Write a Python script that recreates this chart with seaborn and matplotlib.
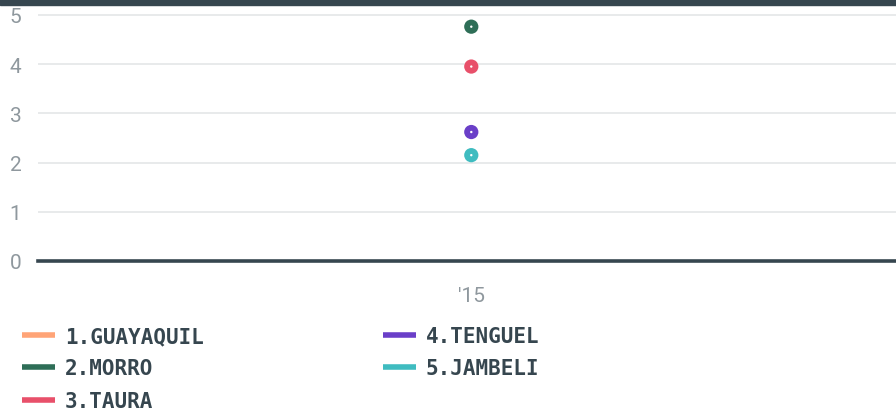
import pandas as pd
import numpy as np
import matplotlib

matplotlib.use('Agg')

import matplotlib.pyplot as plt
import seaborn as sns
from matplotlib.lines import Line2D
from matplotlib.patches import Rectangle

# data
stations = ['1.GUAYAQUIL', '2.MORRO', '3.TAURA', '4.TENGUEL', '5.JAMBELI']
values = [np.nan, 4.76, 3.95, 2.62, 2.15]
years = ["'15"]
colors = ['#ffa477', '#2e6e57', '#e8506a', '#6a3fc8', '#3fbcc0']

df = pd.DataFrame({'year': years * len(stations), 'station': stations, 'value': values})

sns.set_style('white')
plt.rcParams['font.family'] = ['Roboto', 'DejaVu Sans']

fig = plt.figure(figsize=(8.96, 4.14), dpi=100)
ax = fig.add_axes([38 / 896, 152 / 414, 1 - 38 / 896, (414 - 152 - 7) / 414])

sns.scatterplot(data=df.dropna(), x='year', y='value', hue='station',
                hue_order=stations, palette=colors, s=105, edgecolor='none',
                legend=False, ax=ax, zorder=3)
# small white centre dots
sns.scatterplot(data=df.dropna(), x='year', y='value', color='white', s=3,
                edgecolor='none', legend=False, ax=ax, zorder=4)

ax.set_xlim(-0.505, 0.495)
ax.set_ylim(0, 5.18)
ax.set_yticks(range(0, 6))
ax.grid(axis='y', color='#e6e8e9', linewidth=1.3)
ax.set_axisbelow(True)
for s in ['left', 'right', 'top']:
    ax.spines[s].set_visible(False)
ax.spines['bottom'].set_color('#36464f')
ax.spines['bottom'].set_linewidth(2.6)
ax.tick_params(axis='y', length=0, pad=12, labelsize=15, labelcolor='#8f989e')
ax.tick_params(axis='x', length=0, pad=18, labelsize=15, labelcolor='#8f989e')
ax.set_xlabel('')
ax.set_ylabel('')

# top band
fig.add_artist(Rectangle((0, 1 - 6 / 414), 1, 6 / 414, transform=fig.transFigure,
                         color='#36464f', zorder=10))

handles = [Line2D([0], [0], color=c, linewidth=4, solid_capstyle='butt') for c in colors]
leg = fig.legend(handles, stations, ncol=2, loc='upper left',
                 bbox_to_anchor=(22 / 896, 1 - 327 / 414), frameon=False,
                 prop={'family': 'DejaVu Sans Mono', 'weight': 'bold', 'size': 15},
                 handlelength=1.6, handletextpad=0.45, columnspacing=8.6,
                 labelspacing=0.6, borderaxespad=0, borderpad=0)
for t in leg.get_texts():
    t.set_color('#36464f')

plt.savefig('out.png', dpi=100)
